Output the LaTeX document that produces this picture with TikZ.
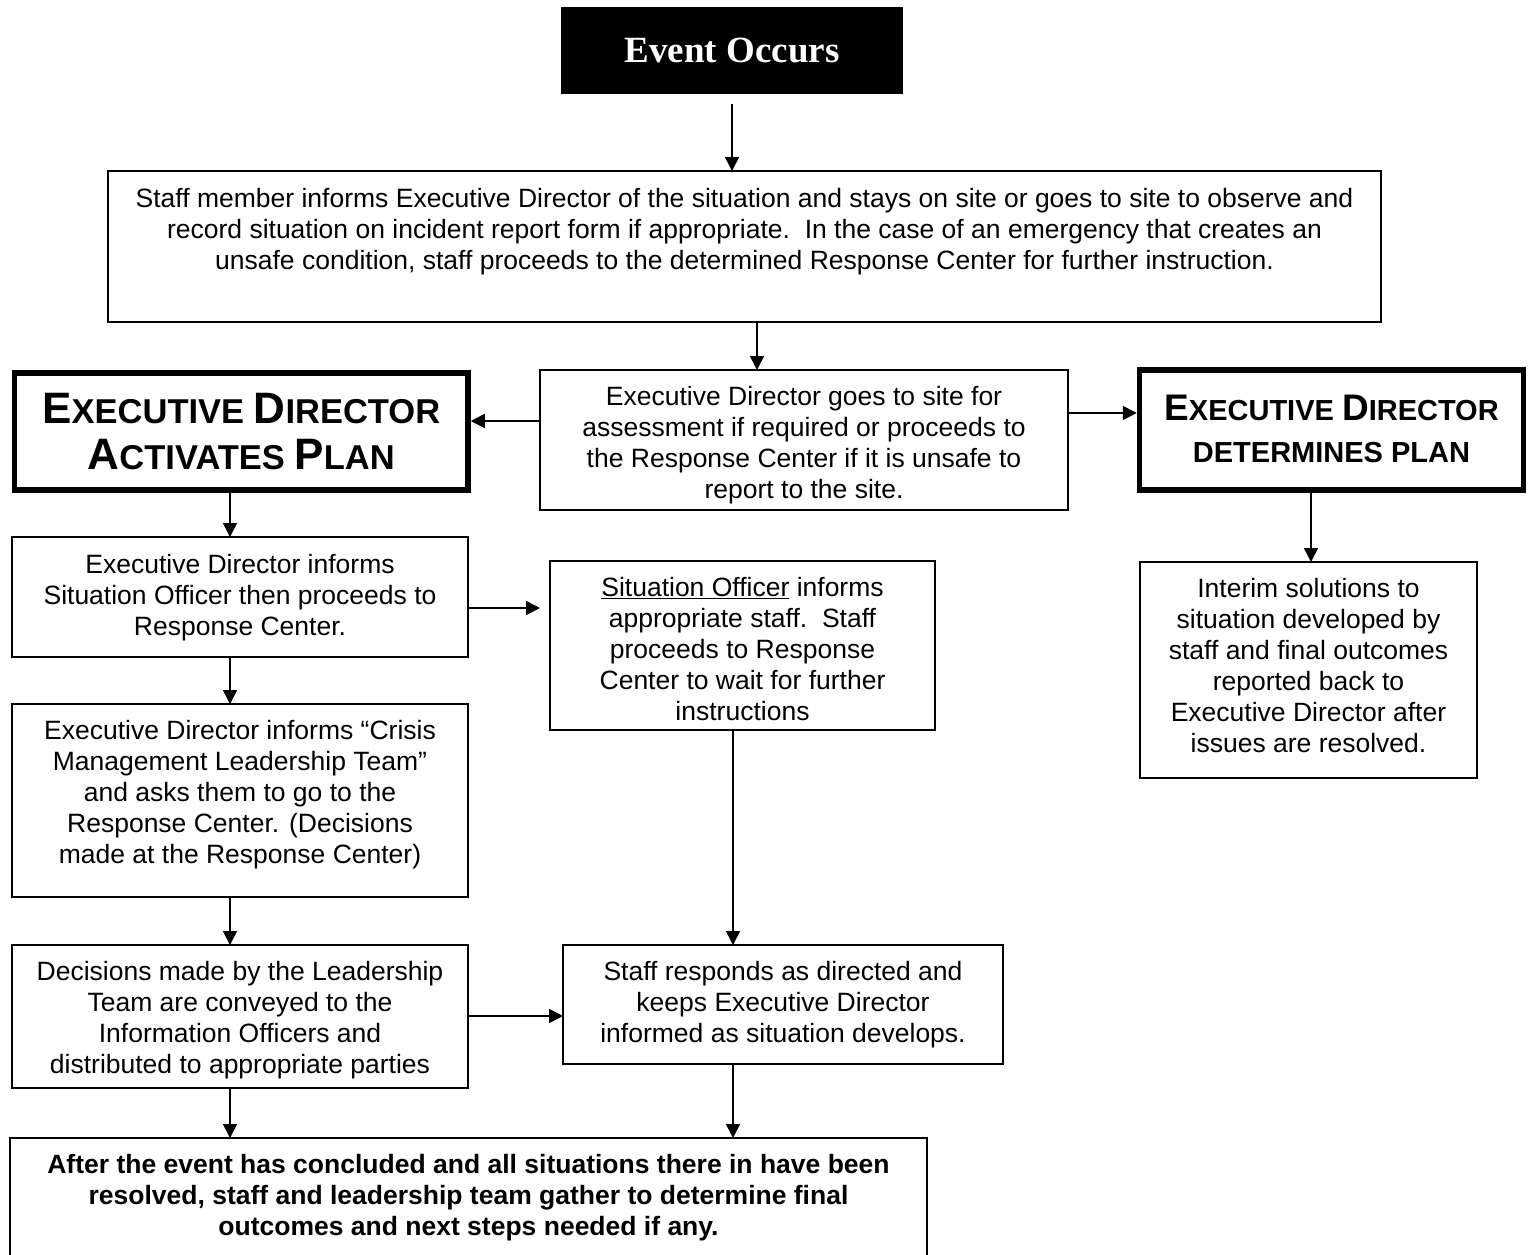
\documentclass[tikz,border=0pt]{standalone}
\usepackage{fontspec}
\setmainfont{Liberation Sans}
\newfontfamily\serifb{Liberation Serif}
\usetikzlibrary{arrows.meta}
\newcommand\bxt[4]{\parbox[c][#2][t]{#1}{\centering\vspace*{#3}\strut #4\par}}
\newcommand\capL[1]{{\fontsize{44}{46}\selectfont #1}}
\newcommand\capR[1]{{\fontsize{37}{42}\selectfont #1}}
\tikzset{
  box/.style={draw, line width=1.6pt, inner sep=0pt, outer sep=0pt, anchor=north west,
    font=\fontsize{26.5}{31}\selectfont},
  bigbox/.style={draw, line width=5.5pt, inner sep=0pt, anchor=center, align=center,
    font=\bfseries\fontsize{34.5}{46}\selectfont},
  arr/.style={line width=1.6pt, -{Triangle[length=14pt,width=14pt]}},
}
\begin{document}
\begin{tikzpicture}[x=1pt,y=-1pt]
\useasboundingbox (0,0) rectangle (1534,1255);
\clip (0,0) rectangle (1534,1255);
\fill[white] (0,0) rectangle (1534,1255);

\node[fill=black, minimum width=342pt, minimum height=87pt, inner sep=0pt, outer sep=0pt,
  anchor=north west, text=white, font=\serifb\bfseries\fontsize{37}{40}\selectfont]
  (event) at (561,7) {Event Occurs};

\node[box] (staff) at (108,171) {\bxt{1273pt}{151pt}{15pt}{Staff member informs Executive Director of the situation and stays on site or goes to site to observe and\\
record situation on incident report form if appropriate.\ \ In the case of an emergency that creates an\\
unsafe condition, staff proceeds to the determined Response Center for further instruction.}};

\node[box] (edsite) at (540,370) {\bxt{528pt}{140pt}{14pt}{Executive Director goes to site for\\assessment if required or proceeds to\\the Response Center if it is unsafe to\\report to the site.}};

\node[bigbox, minimum width=453.5pt, minimum height=117pt] (activ) at (241.25,431.5)
  {\capL{E}XECUTIVE \capL{D}IRECTOR\\[0pt]\capL{A}CTIVATES \capL{P}LAN};
\node[bigbox, minimum width=384pt, minimum height=120pt, font=\bfseries\fontsize{29}{42}\selectfont] (determ) at (1331.5,430)
  {\raisebox{3pt}{\capR{E}XECUTIVE \capR{D}IRECTOR}\\\raisebox{3pt}{DETERMINES PLAN}};

\node[box] (l1) at (12,537) {\bxt{456pt}{120pt}{15pt}{Executive Director informs\\Situation Officer then proceeds to\\Response Center.}};
\node[box] (m1) at (550,561) {\bxt{385pt}{169pt}{14pt}{\underline{Situation Officer} informs\\appropriate staff.\ \ Staff\\proceeds to Response\\Center to wait for further\\instructions}};
\node[box] (r1) at (1140,562) {\bxt{337pt}{216pt}{14pt}{Interim solutions to\\situation developed by\\staff and final outcomes\\reported back to\\Executive Director after\\issues are resolved.}};
\node[box] (l2) at (12,704) {\bxt{456pt}{193pt}{14pt}{Executive Director informs “Crisis\\Management Leadership Team”\\and asks them to go to the\\Response Center. (Decisions\\made at the Response Center)}};
\node[box] (l3) at (12,945) {\bxt{456pt}{143pt}{14pt}{Decisions made by the Leadership\\Team are conveyed to the\\Information Officers and\\distributed to appropriate parties}};
\node[box] (m2) at (563,945) {\bxt{440pt}{119pt}{14pt}{Staff responds as directed and\\keeps Executive Director\\informed as situation develops.}};
\node[box, font=\bfseries\fontsize{26.5}{31}\selectfont] (final) at (10,1138) {\bxt{917pt}{150pt}{14pt}{After the event has concluded and all situations there in have been\\resolved, staff and leadership team gather to determine final\\outcomes and next steps needed if any.}};

\coordinate (c757) at (757,0);
\coordinate (c230) at (230,0);
\coordinate (c733) at (733,0);
\coordinate (c1311) at (1311,0);
\coordinate (r421) at (0,421);
\coordinate (r413) at (0,413);
\coordinate (r608) at (0,608);
\coordinate (r1016) at (0,1016);

\draw[arr, shorten <=10pt] (event.south) -- (event.south |- staff.north);
\draw[arr] (c757 |- staff.south) -- (c757 |- edsite.north);
\draw[arr] (edsite.west |- r421) -- (activ.east |- r421);
\draw[arr] (edsite.east |- r413) -- (determ.west |- r413);
\draw[arr] (c230 |- activ.south) -- (c230 |- l1.north);
\draw[arr, shorten >=10pt] (l1.east |- r608) -- (m1.west |- r608);
\draw[arr] (c230 |- l1.south) -- (c230 |- l2.north);
\draw[arr] (c230 |- l2.south) -- (c230 |- l3.north);
\draw[arr] (l3.east |- r1016) -- (m2.west |- r1016);
\draw[arr] (c733 |- m1.south) -- (c733 |- m2.north);
\draw[arr] (c230 |- l3.south) -- (c230 |- final.north);
\draw[arr] (c733 |- m2.south) -- (c733 |- final.north);
\draw[arr] (c1311 |- determ.south) -- (c1311 |- r1.north);
\end{tikzpicture}
\end{document}
